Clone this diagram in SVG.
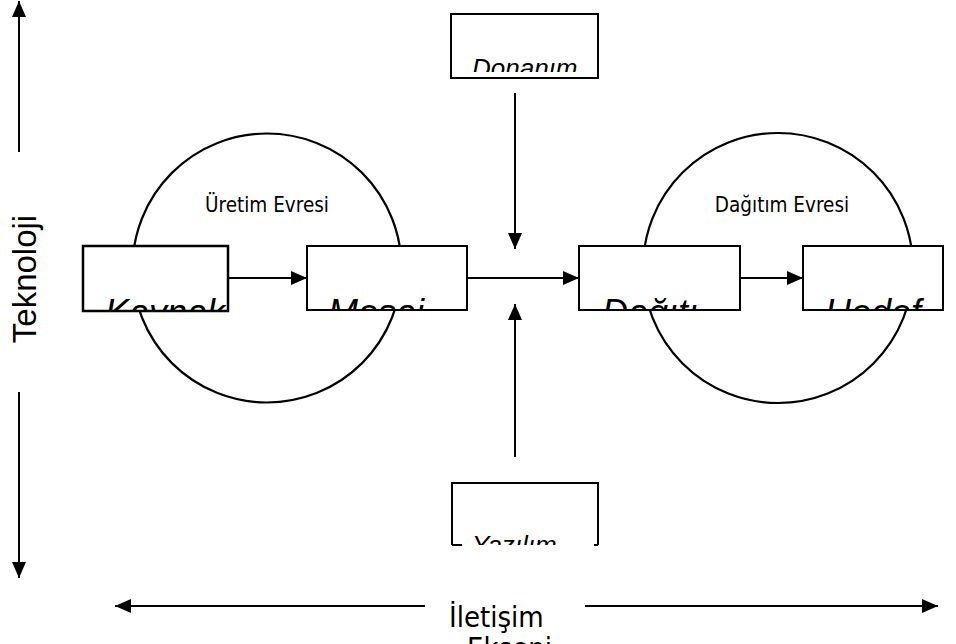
<svg xmlns="http://www.w3.org/2000/svg" width="956" height="644" viewBox="0 0 956 644">
<style>
.box{fill:#fff;stroke:#000;stroke-width:2}
.circ{fill:none;stroke:#000;stroke-width:2.2}
.ln{stroke:#000;stroke-width:2;fill:none}
.bt{font-family:"Liberation Sans",Arial,sans-serif;font-style:italic;font-size:36px;fill:#000}
.bs{font-family:"Liberation Sans",Arial,sans-serif;font-style:italic;font-size:26px;fill:#000}
.ph{font-family:"DejaVu Sans Condensed","DejaVu Sans",sans-serif;font-size:20.5px;fill:#000;text-anchor:middle}
.ax{font-family:"DejaVu Sans Condensed","DejaVu Sans",sans-serif;font-size:29px;fill:#000}
.axl{font-family:"Liberation Sans",Arial,sans-serif;font-size:33px;fill:#000;text-anchor:middle}
</style>
<defs>
<marker id="ah" viewBox="0 0 16 14" refX="16" refY="7" markerWidth="16" markerHeight="14" markerUnits="userSpaceOnUse" orient="auto">
<path d="M0,0 L16,7 L0,14 Z" fill="#000"/>
</marker>
<clipPath id="cK"><rect x="84" y="247" width="143" height="64"/></clipPath>
<clipPath id="cM"><rect x="308" y="247" width="118" height="64"/></clipPath>
<clipPath id="cD"><rect x="580" y="247" width="118" height="64"/></clipPath>
<clipPath id="cH"><rect x="804" y="247" width="124" height="64"/></clipPath>
<clipPath id="cDo"><rect x="452" y="15" width="130" height="57"/></clipPath>
<clipPath id="cY"><rect x="453" y="484" width="130" height="61"/></clipPath>
</defs>

<g id="phase-uretim">
<circle class="circ" cx="267" cy="268" r="134.5"/>
<text class="ph" x="267" y="212">Üretim Evresi</text>
</g>
<g id="phase-dagitim">
<circle class="circ" cx="778" cy="268" r="135"/>
<text class="ph" x="782" y="212">Dağıtım Evresi</text>
</g>

<g id="connectors">
<line class="ln" x1="228" y1="278" x2="307" y2="278" marker-end="url(#ah)"/>
<line class="ln" x1="467" y1="278" x2="579" y2="278" marker-end="url(#ah)"/>
<line class="ln" x1="740" y1="278" x2="803" y2="278" marker-end="url(#ah)"/>
<line class="ln" x1="515" y1="93" x2="515" y2="249" marker-end="url(#ah)"/>
<line class="ln" x1="515" y1="457" x2="515" y2="304" marker-end="url(#ah)"/>
<line class="ln" x1="19" y1="152" x2="19" y2="1" marker-end="url(#ah)"/>
<line class="ln" x1="19" y1="392" x2="19" y2="578" marker-end="url(#ah)"/>
<line class="ln" x1="425" y1="606" x2="115" y2="606" marker-end="url(#ah)"/>
<line class="ln" x1="585" y1="606" x2="938" y2="606" marker-end="url(#ah)"/>
</g>

<g id="kaynak">
<rect class="box" x="83" y="246" width="145" height="65" style="stroke-width:2.5"/>
<text class="bt" x="105" y="325" clip-path="url(#cK)">Kaynak</text>
</g>
<g id="mesaj">
<rect class="box" x="307" y="246" width="160" height="64"/>
<text class="bt" x="328" y="325" clip-path="url(#cM)">Mesaj</text>
</g>
<g id="dagitim">
<rect class="box" x="579" y="246" width="161" height="64"/>
<text class="bt" x="602" y="325" clip-path="url(#cD)">Dağıtım</text>
</g>
<g id="hedef">
<rect class="box" x="803" y="246" width="140" height="64"/>
<text class="bt" x="825" y="325" clip-path="url(#cH)">Hedef</text>
</g>
<g id="donanim">
<rect class="box" x="451" y="14" width="147" height="64"/>
<text class="bs" x="472" y="77" clip-path="url(#cDo)">Donanım</text>
</g>
<g id="yazilim">
<rect x="452" y="483" width="146" height="62" fill="#fff" stroke="none"/>
<path class="ln" d="M452,545 V483 H598 V545"/>
<path class="ln" d="M452,545 H462 M594,545 H598"/>
<text class="bs" x="472" y="554" clip-path="url(#cY)">Yazılım</text>
</g>

<g id="axis-teknoloji">
<text class="axl" transform="translate(36,279) rotate(-90)">Teknoloji</text>
</g>
<g id="axis-iletisim">
<text class="ax" x="449" y="627">İletişim</text>
<text class="ax" x="467" y="658">Ekseni</text>
</g>
</svg>
